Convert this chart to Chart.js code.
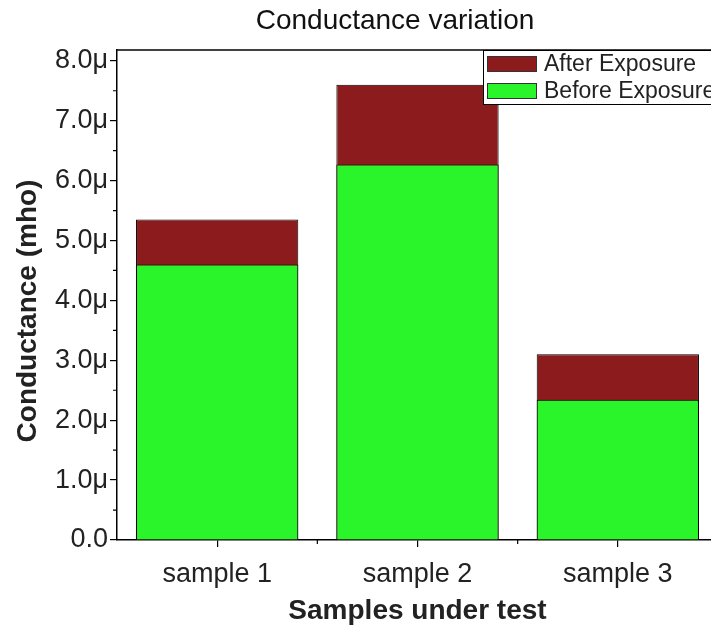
<!DOCTYPE html>
<html>
<head>
<meta charset="utf-8">
<script src="https://cdn.jsdelivr.net/npm/chart.js@4/dist/chart.umd.min.js"></script>
<style>
  html, body { margin: 0; padding: 0; overflow: hidden; background: #fff; }
  #wrap { width: 790px; height: 634px; }
</style>
</head>
<body>
<div id="wrap"><canvas id="conductanceChart" width="790" height="634"></canvas></div>
<script>
const categories = ['sample 1', 'sample 2', 'sample 3'];
const afterExposure = [5.35, 7.6, 3.1];   // micro-mho
const beforeExposure = [4.6, 6.27, 2.34]; // micro-mho
const yTicks = [0, 1, 2, 3, 4, 5, 6, 7, 8];
const seriesNames = ['After Exposure', 'Before Exposure'];
const seriesColors = ['#8c1b1d', '#2af52a'];

const FONT = '"Liberation Sans", Arial, sans-serif';

// chart title, y title, minor ticks, top frame and the legend box inside the plot
const extras = {
  id: 'extras',
  afterDraw(chart) {
    const ctx = chart.ctx;
    const area = chart.chartArea;
    const xs = chart.scales.x, ys = chart.scales.y;
    ctx.save();

    ctx.fillStyle = '#111';
    ctx.textAlign = 'center';
    ctx.textBaseline = 'middle';
    ctx.font = '28px ' + FONT;
    ctx.fillText('Conductance variation', 395, 21);

    ctx.save();
    ctx.translate(28, 311);
    ctx.rotate(-Math.PI / 2);
    ctx.fillStyle = '#222';
    ctx.font = 'bold 28px ' + FONT;
    ctx.fillText('Conductance (mho)', 0, 0);
    ctx.restore();

    ctx.strokeStyle = '#000';
    ctx.lineWidth = 1.5;
    ctx.beginPath();
    ctx.moveTo(area.left, area.top);
    ctx.lineTo(area.right, area.top);
    ctx.stroke();

    ctx.lineWidth = 1.2;
    ctx.beginPath();
    for (let i = 0; i < yTicks.length - 1; i++) {
      const y = ys.getPixelForValue((yTicks[i] + yTicks[i + 1]) / 2);
      ctx.moveTo(area.left, y);
      ctx.lineTo(area.left - 4, y);
    }
    for (let i = 0; i < categories.length - 1; i++) {
      const x = (xs.getPixelForValue(i) + xs.getPixelForValue(i + 1)) / 2;
      ctx.moveTo(x, area.bottom);
      ctx.lineTo(x, area.bottom + 4);
    }
    ctx.stroke();

    // legend
    const lx = 483, ly = area.top, lw = 260, lh = 54;
    ctx.fillStyle = '#fff';
    ctx.fillRect(lx, ly, lw, lh);
    ctx.strokeStyle = '#000';
    ctx.lineWidth = 1;
    ctx.strokeRect(lx + 0.5, ly + 0.5, lw, lh);
    ctx.font = '23px ' + FONT;
    ctx.textAlign = 'left';
    ctx.textBaseline = 'middle';
    seriesNames.forEach((name, i) => {
      const cy = ly + 14 + i * 27;
      ctx.fillStyle = seriesColors[i];
      ctx.fillRect(lx + 4, cy - 8, 50, 16);
      ctx.strokeStyle = '#333';
      ctx.strokeRect(lx + 4.5, cy - 7.5, 49, 15);
      ctx.fillStyle = '#222';
      ctx.fillText(name, lx + 61, cy + 1);
    });
    ctx.restore();
  }
};

const ctx = document.getElementById('conductanceChart').getContext('2d');
new Chart(ctx, {
  type: 'bar',
  data: {
    labels: categories,
    datasets: [{
      label: seriesNames[0],
      data: afterExposure,
      backgroundColor: seriesColors[0],
      borderColor: '#000',
      borderWidth: 1,
      order: 1
    }, {
      label: seriesNames[1],
      data: beforeExposure,
      backgroundColor: seriesColors[1],
      borderColor: '#000',
      borderWidth: 1,
      order: 0
    }]
  },
  options: {
    responsive: false,
    animation: false,
    devicePixelRatio: 1,
    layout: { padding: { left: 0, right: 72, top: 50, bottom: 0 } },
    datasets: { bar: { barPercentage: 0.81, categoryPercentage: 1 } },
    scales: {
      x: {
        stacked: true,
        afterFit(scale) { scale.height = 94; },
        grid: { display: true, drawOnChartArea: false, drawTicks: true, tickLength: 7, color: '#000', lineWidth: 1.2, offset: false },
        border: { display: true, color: '#000', width: 1.5 },
        ticks: { color: '#222', font: { family: FONT, size: 27 }, padding: 11 },
        title: { display: true, text: 'Samples under test', color: '#222', font: { family: FONT, size: 28, weight: 'bold' }, padding: { top: 0, bottom: 6 } }
      },
      y: {
        stacked: false,
        min: 0,
        max: 8.18,
        afterFit(scale) { scale.width = 117; },
        afterBuildTicks(scale) { scale.ticks = yTicks.map(v => ({ value: v })); },
        grid: { display: true, drawOnChartArea: false, drawTicks: true, tickLength: 7, color: '#000', lineWidth: 1.2 },
        border: { display: true, color: '#000', width: 1.5 },
        ticks: {
          color: '#222',
          font: { family: FONT, size: 27 },
          padding: 2,
          callback: v => v === 0 ? '0.0' : v.toFixed(1) + 'μ'
        },
        title: { display: false }
      }
    },
    plugins: {
      legend: { display: false },
      tooltip: { enabled: false },
      title: { display: false }
    }
  },
  plugins: [extras]
});
</script>
</body>
</html>
